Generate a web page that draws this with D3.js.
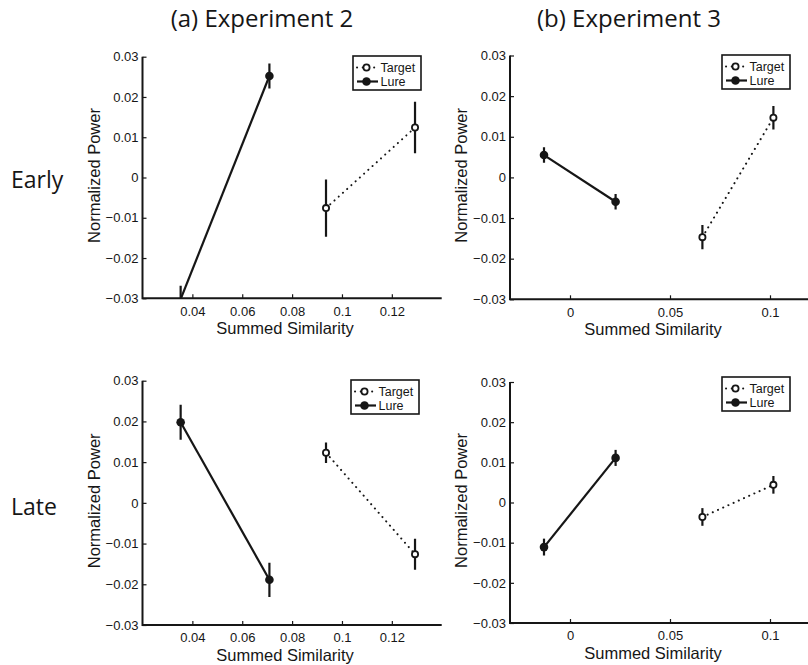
<!DOCTYPE html>
<html><head><meta charset="utf-8">
<script src="https://cdn.jsdelivr.net/npm/d3@7"></script>
<style>
body{margin:0;background:#fff;}
svg{display:block;}
</style></head>
<body><svg id="c" width="808" height="665"></svg>
<script>
// ---- data ----
const columnTitles = ["(a) Experiment 2", "(b) Experiment 3"];
const rowTitles = ["Early", "Late"];
const seriesNames = ["Target", "Lure"];
const yTicks = [-0.03, -0.02, -0.01, 0, 0.01, 0.02, 0.03];
const exp2XTicks = [0.04, 0.06, 0.08, 0.1, 0.12];
const exp3XTicks = [0, 0.05, 0.1];
const exp2XDomain = [0.02, 0.14];
const exp3XDomain = [-0.03, 0.12];
const yDomain = [-0.03, 0.03];

const exp2TargetX = [0.0936, 0.1293];
const exp2LureX = [0.0353, 0.0709];
const exp3TargetX = [0.0662, 0.1017];
const exp3LureX = [-0.0130, 0.0228];

const exp2EarlyTargetY = [-0.0076, 0.0124];
const exp2EarlyTargetErr = [0.0071, 0.0064];
const exp2EarlyLureY = [-0.0302, 0.0252];
const exp2EarlyLureErr = [0.0033, 0.0031];

const exp2LateTargetY = [0.0123, -0.0126];
const exp2LateTargetErr = [0.0025, 0.0038];
const exp2LateLureY = [0.0198, -0.0189];
const exp2LateLureErr = [0.0043, 0.0042];

const exp3EarlyTargetY = [-0.0147, 0.0147];
const exp3EarlyTargetErr = [0.0030, 0.0029];
const exp3EarlyLureY = [0.0055, -0.0060];
const exp3EarlyLureErr = [0.0019, 0.0019];

const exp3LateTargetY = [-0.0036, 0.0044];
const exp3LateTargetErr = [0.0022, 0.0022];
const exp3LateLureY = [-0.0111, 0.0111];
const exp3LateLureErr = [0.0021, 0.0020];

// ---- layout ----
const ink = "#161616";
const svg = d3.select("#c");
const fmt = v => { let s = String(+v.toFixed(3)); return s.replace("-", "\u2212"); };

const panels = [
  {x0:142.5, x1:441.7, y0:56.7, y1:298.3, xd:exp2XDomain, xt:exp2XTicks, tx:exp2TargetX, ty:exp2EarlyTargetY, te:exp2EarlyTargetErr, lx:exp2LureX, ly:exp2EarlyLureY, le:exp2EarlyLureErr, leg:[353,56]},
  {x0:510, x1:810, y0:55.5, y1:299.3, xd:exp3XDomain, xt:exp3XTicks, tx:exp3TargetX, ty:exp3EarlyTargetY, te:exp3EarlyTargetErr, lx:exp3LureX, ly:exp3EarlyLureY, le:exp3EarlyLureErr, leg:[722,55]},
  {x0:142.5, x1:441.7, y0:380.7, y1:625, xd:exp2XDomain, xt:exp2XTicks, tx:exp2TargetX, ty:exp2LateTargetY, te:exp2LateTargetErr, lx:exp2LureX, ly:exp2LateLureY, le:exp2LateLureErr, leg:[351,380]},
  {x0:510, x1:810, y0:382, y1:623, xd:exp3XDomain, xt:exp3XTicks, tx:exp3TargetX, ty:exp3LateTargetY, te:exp3LateTargetErr, lx:exp3LureX, ly:exp3LateLureY, le:exp3LateLureErr, leg:[722,377]}
];

// titles
svg.append("text").attr("x", 262).attr("y", 27).attr("text-anchor","middle")
  .attr("font-family","Open Sans").attr("font-size",24).attr("fill",ink).text(columnTitles[0]);
svg.append("text").attr("x", 629).attr("y", 27).attr("text-anchor","middle")
  .attr("font-family","Open Sans").attr("font-size",24).attr("fill",ink).text(columnTitles[1]);
svg.append("text").attr("x", 11).attr("y", 188).attr("font-family","Open Sans").attr("font-size",23).attr("fill",ink).text(rowTitles[0]);
svg.append("text").attr("x", 11).attr("y", 515).attr("font-family","Open Sans").attr("font-size",23).attr("fill",ink).text(rowTitles[1]);

panels.forEach((p, i) => {
  const x = d3.scaleLinear().domain(p.xd).range([p.x0, p.x1]);
  const y = d3.scaleLinear().domain(yDomain).range([p.y1, p.y0]);
  const g = svg.append("g");
  const clipId = "clip" + i;
  svg.append("clipPath").attr("id", clipId).append("rect")
    .attr("x", p.x0).attr("y", p.y0 - 6).attr("width", p.x1 - p.x0).attr("height", p.y1 - p.y0 + 6);
  const plot = g.append("g").attr("clip-path", `url(#${clipId})`);

  const mk = (xs, ys, es) => xs.map((xv, k) => ({x: xv, y: ys[k], e: es[k]}));
  const target = mk(p.tx, p.ty, p.te);
  const lure = mk(p.lx, p.ly, p.le);
  const line = d3.line().x(d => x(d.x)).y(d => y(d.y));

  // lines
  plot.append("path").datum(lure).attr("d", line).attr("fill","none")
    .attr("stroke", ink).attr("stroke-width", 2.2);
  plot.append("path").datum(target).attr("d", line).attr("fill","none")
    .attr("stroke", ink).attr("stroke-width", 2).attr("stroke-linecap","round")
    .attr("stroke-dasharray","0.1,5.6");

  // error bars
  [...lure, ...target].forEach(d => {
    plot.append("line").attr("x1", x(d.x)).attr("x2", x(d.x))
      .attr("y1", y(d.y - d.e)).attr("y2", y(d.y + d.e))
      .attr("stroke", ink).attr("stroke-width", 2.2);
  });
  const inside = d => d.y >= yDomain[0] && d.y <= yDomain[1];
  plot.selectAll(".lm").data(lure.filter(inside)).enter().append("circle")
    .attr("cx", d => x(d.x)).attr("cy", d => y(d.y)).attr("r", 4.3).attr("fill", ink);
  plot.selectAll(".tm").data(target.filter(inside)).enter().append("circle")
    .attr("cx", d => x(d.x)).attr("cy", d => y(d.y)).attr("r", 3.1)
    .attr("fill", "#fff").attr("stroke", ink).attr("stroke-width", 1.8);

  // axes
  const ya = d3.axisLeft(y).tickValues(yTicks).tickSize(-4).tickPadding(4).tickFormat(fmt);
  const xa = d3.axisBottom(x).tickValues(p.xt).tickSize(-4).tickPadding(8).tickFormat(fmt);
  const gy = g.append("g").attr("transform", `translate(${p.x0},0)`).call(ya);
  const gx = g.append("g").attr("transform", `translate(0,${p.y1})`).call(xa);
  [gy, gx].forEach(a => {
    a.selectAll(".tick line").attr("stroke", ink).attr("stroke-width", 1.2);
    a.selectAll("text").attr("font-family","Liberation Sans, Arial").attr("font-size", 13).attr("fill", ink);
  });
  gy.select(".domain").remove();
  gx.select(".domain").remove();
  g.append("path").attr("d", `M${p.x0},${p.y0}V${p.y1}H${p.x1}`).attr("fill","none")
    .attr("stroke", ink).attr("stroke-width", 2);

  // axis labels
  g.append("text").attr("transform", `translate(${p.x0 - 43},${(p.y0+p.y1)/2 - 2}) rotate(-90)`)
    .attr("text-anchor","middle").attr("font-family","Liberation Sans, Arial").attr("font-size", 16.5)
    .attr("fill", ink).text("Normalized Power");
  g.append("text").attr("x", (p.x0 + p.x1)/2 - 7).attr("y", p.y1 + 36)
    .attr("text-anchor","middle").attr("font-family","Liberation Sans, Arial").attr("font-size", 16.5)
    .attr("fill", ink).text("Summed Similarity");

  // legend
  const [lx0, ly0] = p.leg;
  const lg = g.append("g").attr("transform", `translate(${lx0},${ly0})`);
  lg.append("rect").attr("x",0).attr("y",0).attr("width",68).attr("height",34)
    .attr("fill","#fff").attr("stroke", ink).attr("stroke-width", 1.6);
  const rows = [{n: seriesNames[0], dy: 11.5, dash: true}, {n: seriesNames[1], dy: 25.5, dash: false}];
  rows.forEach(r => {
    lg.append("line").attr("x1", 4).attr("x2", 25).attr("y1", r.dy).attr("y2", r.dy)
      .attr("stroke", ink).attr("stroke-width", r.dash ? 2 : 2.2)
      .attr("stroke-linecap", r.dash ? "round" : "butt")
      .attr("stroke-dasharray", r.dash ? "0.1,5.6" : null);
    if (r.dash) {
      lg.append("circle").attr("cx", 13.5).attr("cy", r.dy).attr("r", 3.1)
        .attr("fill","#fff").attr("stroke", ink).attr("stroke-width", 1.8);
    } else {
      lg.append("circle").attr("cx", 13.5).attr("cy", r.dy).attr("r", 4.3).attr("fill", ink);
    }
    lg.append("text").attr("x", 27.5).attr("y", r.dy + 4.5).attr("font-family","Liberation Sans, Arial")
      .attr("font-size", 12.5).attr("fill", ink).text(r.n);
  });
});
</script></body></html>
